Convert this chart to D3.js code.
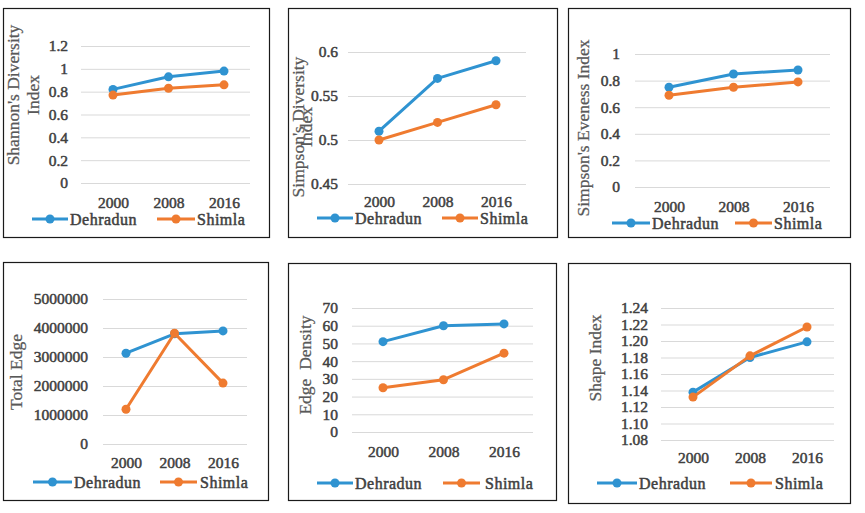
<!DOCTYPE html>
<html>
<head>
<meta charset="utf-8">
<script src="https://cdn.jsdelivr.net/npm/d3@7"></script>
<style>
  body { margin: 0; background: #fff; }
  svg text { font-family: "Liberation Serif", "Times New Roman", serif; font-weight: normal; }
  svg text.bold { stroke: #404040; stroke-width: 0.5px; paint-order: stroke; }
</style>
</head>
<body>
<div id="chart"></div>
<script>
// data
var years = ["2000", "2008", "2016"];
var cities = ["Dehradun", "Shimla"];

var shannonDehradun = [0.82, 0.93, 0.98];
var shannonShimla = [0.77, 0.83, 0.86];
var shannonTicks = [0, 0.2, 0.4, 0.6, 0.8, 1, 1.2];

var simpsonDehradun = [0.51, 0.57, 0.59];
var simpsonShimla = [0.50, 0.52, 0.54];
var simpsonTicks = [0.45, 0.5, 0.55, 0.6];

var evenessDehradun = [0.75, 0.85, 0.88];
var evenessShimla = [0.69, 0.75, 0.79];
var evenessTicks = [0, 0.2, 0.4, 0.6, 0.8, 1];

var edgeDehradun = [3130000, 3800000, 3900000];
var edgeShimla = [1200000, 3820000, 2100000];
var edgeTicks = [0, 1000000, 2000000, 3000000, 4000000, 5000000];

var densityDehradun = [51, 60, 61];
var densityShimla = [25, 29.5, 44.5];
var densityTicks = [0, 10, 20, 30, 40, 50, 60, 70];

var shapeDehradun = [1.138, 1.18, 1.199];
var shapeShimla = [1.132, 1.182, 1.217];
var shapeTicks = [1.08, 1.10, 1.12, 1.14, 1.16, 1.18, 1.20, 1.22, 1.24];

var colors = ["#2f93d1", "#ef7b30"];

var w = 865;
var h = 513;

var svg = d3.select("#chart")
    .append("svg")
    .attr("width", w)
    .attr("height", h);

// layout of each small chart
var panels = [
    {box: [3, 8, 269, 237], grid: [81, 250], yPix: [183, 46], cats: [113, 224], labelX: 68, xLabelY: 203,
     legY: 219, leg: [[32, 68, 70], [157, 195, 197]], title: ["Shannon's Diversity", "Index"], titleX: [13, 33], titleY: 95,
     series: [shannonDehradun, shannonShimla], ticks: shannonTicks, fmt: d3.format("")},
    {box: [288, 8, 557, 237], grid: [348, 526], yPix: [184, 52], cats: [379, 496], labelX: 338, xLabelY: 202,
     legY: 218, leg: [[317, 353, 355], [442, 478, 480]], title: ["Simpson's Diversity", "Index"], titleX: [298, 306], titleY: 127,
     series: [simpsonDehradun, simpsonShimla], ticks: simpsonTicks, fmt: d3.format("")},
    {box: [568, 8, 850, 237], grid: [635, 830], yPix: [187, 54], cats: [669, 798], labelX: 620, xLabelY: 207,
     legY: 223, leg: [[612, 650, 652], [735, 772, 774]], title: ["Simpson's Eveness Index"], titleX: [583], titleY: 128,
     series: [evenessDehradun, evenessShimla], ticks: evenessTicks, fmt: d3.format("")},
    {box: [3, 262, 268, 500], grid: [103, 247], yPix: [444, 299], cats: [126, 223], labelX: 88, xLabelY: 463,
     legY: 482, leg: [[33, 72, 74], [160, 197, 200]], title: ["Total Edge"], titleX: [16], titleY: 372,
     series: [edgeDehradun, edgeShimla], ticks: edgeTicks, fmt: d3.format("d")},
    {box: [288, 263, 556, 500], grid: [352, 533], yPix: [432, 308], cats: [383, 504], labelX: 338, xLabelY: 452,
     legY: 483, leg: [[317, 353, 355], [443, 480, 485]], title: ["Edge  Density"], titleX: [305], titleY: 365,
     series: [densityDehradun, densityShimla], ticks: densityTicks, fmt: d3.format("d")},
    {box: [568, 263, 850, 503], grid: [661, 834], yPix: [440, 308], cats: [693, 807], labelX: 648, xLabelY: 458,
     legY: 483, leg: [[597, 637, 639], [730, 772, 775]], title: ["Shape Index"], titleX: [595], titleY: 358,
     series: [shapeDehradun, shapeShimla], ticks: shapeTicks, fmt: d3.format(".2f")}
];

function boldText(sel) {
    sel.attr("class", "bold")
        .attr("fill", "#404040")
        .attr("font-family", "'Liberation Serif', serif")
        .style("font-size", "15.5px");
}

panels.forEach(function (p) {
    var g = svg.append("g");

    // frame
    g.append("rect")
        .attr("x", p.box[0] + 0.5)
        .attr("y", p.box[1] + 0.5)
        .attr("width", p.box[2] - p.box[0])
        .attr("height", p.box[3] - p.box[1])
        .attr("fill", "#fff")
        .attr("stroke", "#1a1a1a")
        .attr("stroke-width", 1.2);

    var x = d3.scalePoint().domain(years).range(p.cats);
    var y = d3.scaleLinear()
        .domain([p.ticks[0], p.ticks[p.ticks.length - 1]])
        .range(p.yPix);

    // y axis with gridlines
    var yAxis = d3.axisLeft(y)
        .tickValues(p.ticks)
        .tickFormat(p.fmt)
        .tickSizeInner(-(p.grid[1] - p.grid[0]))
        .tickSizeOuter(0)
        .tickPadding(p.grid[0] - p.labelX);

    var ya = g.append("g")
        .attr("transform", "translate(" + p.grid[0] + ",0)")
        .call(yAxis);
    ya.attr("font-family", null).attr("font-size", null);
    ya.select(".domain").remove();
    ya.selectAll("line").attr("stroke", "#d9d9d9").attr("stroke-width", 1);
    ya.selectAll("text").call(boldText);

    // x axis labels
    var xa = g.append("g")
        .attr("transform", "translate(0," + (p.xLabelY - 8) + ")")
        .call(d3.axisBottom(x).tickSize(0).tickPadding(2));
    xa.attr("font-family", null).attr("font-size", null);
    xa.select(".domain").remove();
    xa.selectAll("text").call(boldText);

    var line = d3.line()
        .x(function (d, i) { return x(years[i]); })
        .y(function (d) { return y(d); });

    p.series.forEach(function (s, k) {
        g.append("path")
            .datum(s)
            .attr("d", line)
            .attr("fill", "none")
            .attr("stroke", colors[k])
            .attr("stroke-width", 3)
            .attr("stroke-linejoin", "round");

        g.selectAll(".pt" + k)
            .data(s)
            .enter()
            .append("circle")
            .attr("class", "pt" + k)
            .attr("cx", function (d, i) { return x(years[i]); })
            .attr("cy", function (d) { return y(d); })
            .attr("r", 4.5)
            .attr("fill", colors[k]);

        // legend entry
        var L = p.leg[k];
        g.append("line")
            .attr("x1", L[0]).attr("x2", L[1])
            .attr("y1", p.legY).attr("y2", p.legY)
            .attr("stroke", colors[k])
            .attr("stroke-width", 3);
        g.append("circle")
            .attr("cx", (L[0] + L[1]) / 2)
            .attr("cy", p.legY)
            .attr("r", 4.5)
            .attr("fill", colors[k]);
        g.append("text")
            .attr("x", L[2])
            .attr("y", p.legY)
            .attr("dy", "0.35em")
            .call(boldText)
            .style("font-size", "16px")
            .style("letter-spacing", "0.5px")
            .text(cities[k]);
    });

    // y title, rotated
    p.title.forEach(function (t, j) {
        g.append("text")
            .attr("transform", "translate(" + p.titleX[j] + "," + p.titleY + ") rotate(-90)")
            .attr("text-anchor", "middle")
            .attr("dy", "0.35em")
            .attr("fill", "#595959")
            .attr("stroke", "#595959")
            .attr("stroke-width", 0.25)
            .style("font-size", "17.5px")
            .style("white-space", "pre")
            .text(t);
    });
});
</script>
</body>
</html>
